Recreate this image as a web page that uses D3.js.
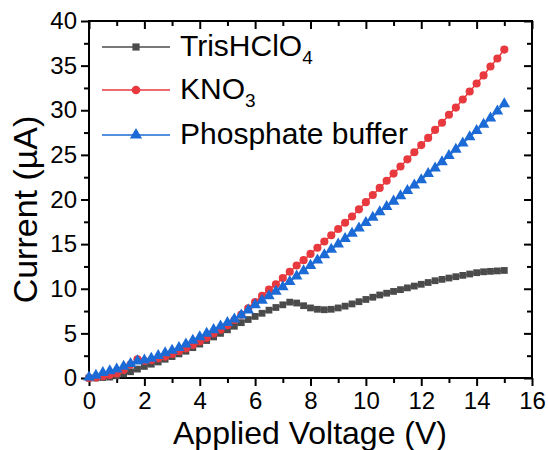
<!DOCTYPE html>
<html lang="en">
<head>
<meta charset="utf-8">
<title>Current vs applied voltage</title>
<script src="https://d3js.org/d3.v7.min.js"></script>
<style>
  body { margin: 0; background: #fff; }
  svg text { font-family: Arial, "Liberation Sans", sans-serif; fill: #000; }
  .axis path { stroke: none; }
  .axis line { stroke: #000; stroke-width: 2; }
  .axis text { font-size: 24px; }
</style>
</head>
<body>
<div id="chart"></div>
<script>
// Data
const voltage = [
  0.00, 0.25, 0.50, 0.75, 1.00, 1.25, 1.50, 1.75, 2.00, 2.25,
  2.50, 2.75, 3.00, 3.25, 3.50, 3.75, 4.00, 4.25, 4.50, 4.75,
  5.00, 5.25, 5.50, 5.75, 6.00, 6.25, 6.50, 6.75, 7.00, 7.25,
  7.50, 7.75, 8.00, 8.25, 8.50, 8.75, 9.00, 9.25, 9.50, 9.75,
  10.00, 10.25, 10.50, 10.75, 11.00, 11.25, 11.50, 11.75, 12.00, 12.25,
  12.50, 12.75, 13.00, 13.25, 13.50, 13.75, 14.00, 14.25, 14.50, 14.75,
  15.00
];
const trisCurrent = [
  0.00, 0.00, 0.05, 0.10, 0.25, 0.45, 0.70, 1.00, 1.30, 1.55,
  1.80, 2.10, 2.40, 2.70, 3.00, 3.40, 3.80, 4.20, 4.60, 5.00,
  5.40, 5.80, 6.20, 6.55, 6.90, 7.25, 7.60, 7.90, 8.20, 8.50,
  8.40, 8.10, 7.85, 7.70, 7.65, 7.70, 7.85, 8.05, 8.30, 8.55,
  8.80, 9.05, 9.30, 9.50, 9.70, 9.90, 10.10, 10.30, 10.50, 10.70,
  10.90, 11.05, 11.20, 11.35, 11.50, 11.65, 11.80, 11.90, 11.95, 12.00,
  12.05
];
const kno3Current = [
  0.00, 0.05, 0.20, 0.35, 0.50, 0.90, 1.50, 2.10, 1.90, 2.00,
  2.20, 2.40, 2.70, 3.00, 3.30, 3.70, 4.10, 4.50, 5.00, 5.40,
  5.90, 6.50, 7.10, 7.80, 8.50, 9.20, 9.90, 10.50, 11.20, 11.90,
  12.60, 13.20, 13.90, 14.60, 15.30, 16.00, 16.70, 17.40, 18.10, 18.90,
  19.70, 20.50, 21.30, 22.10, 22.90, 23.70, 24.50, 25.30, 26.10, 26.90,
  27.80, 28.60, 29.50, 30.30, 31.20, 32.10, 33.00, 33.90, 34.90, 35.80,
  36.80
];
const phosphateCurrent = [
  0.10, 0.30, 0.60, 0.80, 1.00, 1.30, 1.60, 1.90, 2.00, 2.20,
  2.50, 2.80, 3.10, 3.40, 3.80, 4.20, 4.60, 5.00, 5.40, 5.80,
  6.20, 6.60, 7.05, 7.60, 8.20, 8.70, 9.20, 9.70, 10.20, 10.80,
  11.40, 12.00, 12.60, 13.20, 13.80, 14.40, 15.00, 15.60, 16.20, 16.80,
  17.40, 18.00, 18.60, 19.20, 19.80, 20.40, 21.00, 21.60, 22.20, 22.90,
  23.50, 24.20, 24.90, 25.60, 26.30, 27.00, 27.70, 28.40, 29.10, 29.90,
  30.70
];
const xTicks = [0, 2, 4, 6, 8, 10, 12, 14, 16];
const xMinorTicks = [1, 3, 5, 7, 9, 11, 13, 15];
const yTicks = [0, 5, 10, 15, 20, 25, 30, 35, 40];
const yMinorTicks = [2.5, 7.5, 12.5, 17.5, 22.5, 27.5, 32.5, 37.5];

const series = [
  { name: "TrisHClO", sub: "4", values: trisCurrent, color: "#4b4b4b", symbol: d3.symbolSquare, size: 46 },
  { name: "KNO", sub: "3", values: kno3Current, color: "#e8393f", symbol: d3.symbolCircle, size: 52 },
  { name: "Phosphate buffer", sub: "", values: phosphateCurrent, color: "#1c6ad6", symbol: d3.symbolTriangle, size: 58 }
];

const width = 548, height = 450;
const margin = { top: 21, right: 16, bottom: 72, left: 89 };
const innerW = width - margin.left - margin.right;
const innerH = height - margin.top - margin.bottom;

const svg = d3.select("#chart").append("svg")
  .attr("width", width)
  .attr("height", height);

const x = d3.scaleLinear().domain([0, 16]).range([margin.left, margin.left + innerW]);
const y = d3.scaleLinear().domain([0, 40]).range([margin.top + innerH, margin.top]);

// axes: bottom/left outward with labels, top/right inward without
const bottom = margin.top + innerH, right = margin.left + innerW;

svg.append("g").attr("class", "axis").attr("transform", `translate(0,${bottom})`)
  .call(d3.axisBottom(x).tickValues(xTicks).tickSize(8).tickSizeOuter(0).tickPadding(6).tickFormat(d3.format("d")));
svg.append("g").attr("class", "axis").attr("transform", `translate(0,${bottom})`)
  .call(d3.axisBottom(x).tickValues(xMinorTicks).tickSize(5).tickSizeOuter(0).tickFormat(""));

svg.append("g").attr("class", "axis").attr("transform", `translate(${margin.left},0)`)
  .call(d3.axisLeft(y).tickValues(yTicks).tickSize(8).tickSizeOuter(0).tickPadding(4).tickFormat(d3.format("d")));
svg.append("g").attr("class", "axis").attr("transform", `translate(${margin.left},0)`)
  .call(d3.axisLeft(y).tickValues(yMinorTicks).tickSize(5).tickSizeOuter(0).tickFormat(""));

svg.append("g").attr("class", "axis").attr("transform", `translate(0,${margin.top})`)
  .call(d3.axisTop(x).tickValues(xTicks).tickSize(-8).tickSizeOuter(0).tickFormat(""));
svg.append("g").attr("class", "axis").attr("transform", `translate(0,${margin.top})`)
  .call(d3.axisTop(x).tickValues(xMinorTicks).tickSize(-5).tickSizeOuter(0).tickFormat(""));
svg.append("g").attr("class", "axis").attr("transform", `translate(${right},0)`)
  .call(d3.axisRight(y).tickValues(yTicks).tickSize(-8).tickSizeOuter(0).tickFormat(""));
svg.append("g").attr("class", "axis").attr("transform", `translate(${right},0)`)
  .call(d3.axisRight(y).tickValues(yMinorTicks).tickSize(-5).tickSizeOuter(0).tickFormat(""));

// frame
svg.append("rect")
  .attr("x", margin.left).attr("y", margin.top)
  .attr("width", innerW).attr("height", innerH)
  .attr("fill", "none").attr("stroke", "#000").attr("stroke-width", 2);

// series
const line = d3.line().x((d, i) => x(voltage[i])).y(d => y(d));
series.forEach(s => {
  const g = svg.append("g");
  g.append("path")
    .attr("d", line(s.values))
    .attr("fill", "none")
    .attr("stroke", s.color)
    .attr("stroke-width", 1.5);
  g.selectAll("path.pt")
    .data(s.values)
    .enter()
    .append("path")
    .attr("class", "pt")
    .attr("transform", (d, i) => `translate(${x(voltage[i])},${y(d)})`)
    .attr("d", d3.symbol().type(s.symbol).size(s.size))
    .attr("fill", s.color);
});

// axis titles
svg.append("text")
  .attr("x", 310)
  .attr("y", 444)
  .attr("text-anchor", "middle")
  .attr("font-size", 32)
  .text("Applied Voltage (V)");

svg.append("text")
  .attr("transform", `translate(37,${(margin.top + bottom) / 2 + 10}) rotate(-90)`)
  .attr("text-anchor", "middle")
  .attr("font-size", 34)
  .text("Current (\u00B5A)");

// legend
const legendRows = [47, 90, 135];
series.forEach((s, i) => {
  const ly = legendRows[i];
  svg.append("line")
    .attr("x1", 102).attr("x2", 170)
    .attr("y1", ly).attr("y2", ly)
    .attr("stroke", s.color).attr("stroke-width", 1.5);
  svg.append("path")
    .attr("transform", `translate(136,${ly})`)
    .attr("d", d3.symbol().type(s.symbol).size(s.size + 6))
    .attr("fill", s.color);
  const t = svg.append("text")
    .attr("x", 180).attr("y", ly + 9)
    .attr("font-size", 30)
    .text(s.name);
  if (s.sub) {
    t.append("tspan").attr("dy", 8).attr("font-size", 19).text(s.sub);
  }
});
</script>
</body>
</html>
